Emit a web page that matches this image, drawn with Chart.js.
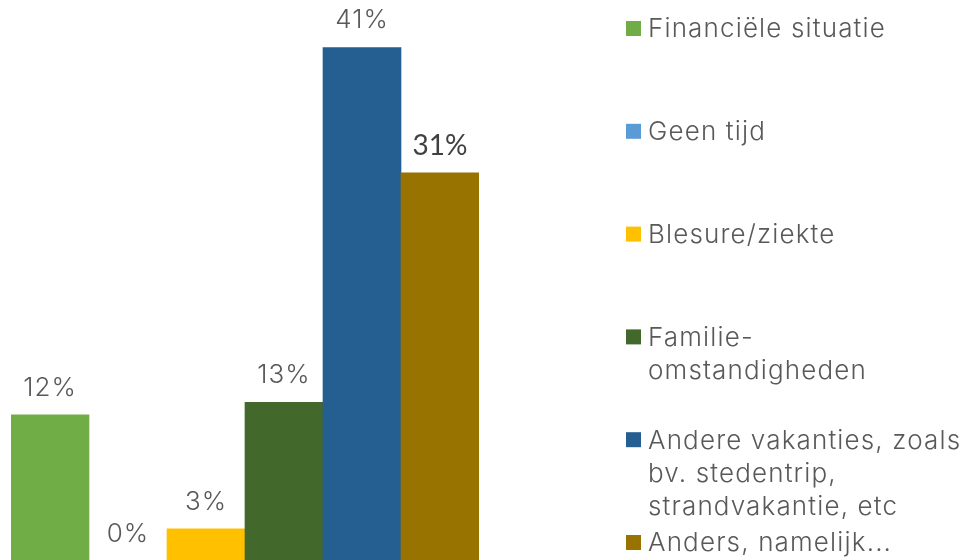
<!DOCTYPE html>
<html lang="nl">
	<head>
		<meta charset="UTF-8" />
		<title>Redenen</title>
		<style>
			body {
				background: #fff;
				margin: 0;
				padding: 0;
			}

			#wrap {
				position: relative;
				width: 963px;
				height: 560px;
			}
		</style>
		<script src="https://cdn.jsdelivr.net/npm/chart.js@4"></script>
	</head>
	<body>
		<div id="wrap"><canvas id="chart"></canvas></div>
		<script>
			// legend text, already broken into lines like in the original
			const categories = [
				["Financiële situatie"],
				["Geen tijd"],
				["Blesure/ziekte"],
				["Familie-", "omstandigheden"],
				["Andere vakanties, zoals", "bv. stedentrip,", "strandvakantie, etc"],
				["Anders, namelijk..."],
			];
			const percentages = [11.7, 0, 2.6, 12.7, 41, 31];
			const barColors = ["#70ad47", "#5b9bd5", "#ffc000", "#43682b", "#255e91", "#997300"];

			const labelFont = "300 26px Inter, sans-serif";

			const valueLabels = {
				id: "valueLabels",
				afterDatasetsDraw(chart) {
					const ctx = chart.ctx;
					const meta = chart.getDatasetMeta(0);
					ctx.save();
					ctx.textAlign = "center";
					ctx.textBaseline = "middle";
					meta.data.forEach((bar, i) => {
						const txt = Math.round(percentages[i]) + "%";
						// last label was formatted differently in the source
						if (i === percentages.length - 1) {
							ctx.font = "400 28px Lato, sans-serif";
							ctx.fillStyle = "#404040";
							ctx.letterSpacing = "0px";
						} else {
							ctx.font = labelFont;
							ctx.fillStyle = "#595959";
							ctx.letterSpacing = "1px";
						}
						const top = chart.scales.y.getPixelForValue(percentages[i]);
						ctx.fillText(txt, bar.x, top - 27);
					});
					ctx.restore();
				},
			};

			const sideLegend = {
				id: "sideLegend",
				afterDraw(chart) {
					const ctx = chart.ctx;
					const left = 626;
					const top = 21;
					const step = 102.8;
					const box = 15;
					const lineH = 33;
					ctx.save();
					ctx.font = labelFont;
					ctx.letterSpacing = "1.15px";
					ctx.textBaseline = "middle";
					categories.forEach((lines, i) => {
						const y = top + i * step;
						ctx.fillStyle = barColors[i];
						ctx.fillRect(left, y, box, box);
						ctx.fillStyle = "#595959";
						lines.forEach((line, j) => {
							ctx.fillText(line, left + 22, y + box / 2 + 1 + j * lineH);
						});
					});
					ctx.restore();
				},
			};

			new Chart(document.getElementById("chart"), {
				type: "bar",
				data: {
					labels: categories.map((c) => c.join(" ")),
					datasets: [
						{
							data: percentages,
							backgroundColor: barColors,
							borderWidth: 0,
							barPercentage: 1,
							categoryPercentage: 1,
						},
					],
				},
				options: {
					responsive: true,
					maintainAspectRatio: false,
					animation: false,
					layout: {
						padding: { left: 11, right: 484, top: 0, bottom: 0 },
					},
					scales: {
						x: { display: false },
						// zero line sits just under the bottom edge in the original
						y: { display: false, min: 0.11, max: 44.8 },
					},
					plugins: {
						legend: { display: false },
						tooltip: { enabled: false },
					},
				},
				plugins: [valueLabels, sideLegend],
			});
		</script>
	</body>
</html>
